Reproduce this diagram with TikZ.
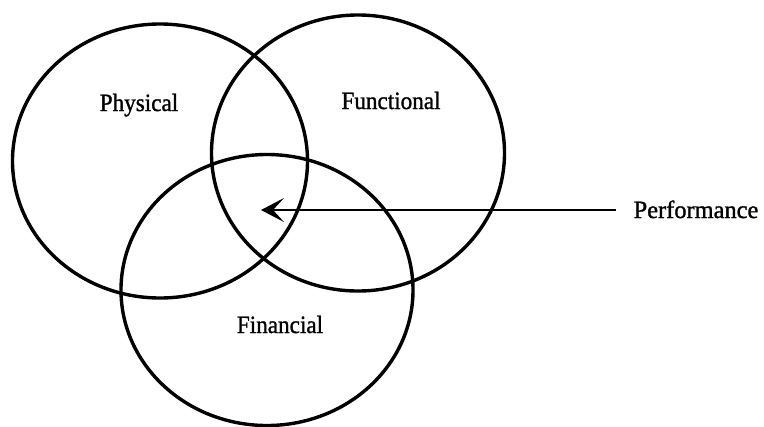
\documentclass[tikz,border=0pt]{standalone}
\usepackage{fontspec}
\setmainfont{Liberation Serif}
\newfontfamily\lblfont[FakeBold=1.2]{Liberation Serif}
\usetikzlibrary{shapes.geometric,arrows.meta}
\begin{document}
\begin{tikzpicture}[x=1bp,y=-1bp,
  venn/.style={draw=black, line width=3.4bp, ellipse, inner sep=0pt, outer sep=0pt},
  lbl/.style={font=\lblfont\fontsize{25}{28}\selectfont, inner sep=0pt, anchor=base},
  arr/.style={line width=1.8bp, -{Stealth[length=23bp,width=24bp,inset=11bp]}}]
\useasboundingbox (0,0) rectangle (764,426);
\node[venn, minimum width=295bp, minimum height=274bp] (phys) at (160,161) {};
\node[venn, minimum width=293bp, minimum height=276bp] (func) at (358,153) {};
\node[venn, minimum width=292bp, minimum height=271bp] (fin) at (267,290) {};
\node[lbl] (tphys) at (139,111) {\scalebox{0.93}[1]{Physical}};
\node[lbl] (tfunc) at (391,109) {\scalebox{0.93}[1]{Functional}};
\node[lbl] (tfin) at (280,333) {\scalebox{0.93}[1]{Financial}};
\node[lbl] (tperf) at (696,218) {\scalebox{0.98}[1]{Performance}};
\coordinate (astart) at (616,210);
\coordinate (atip) at (261,210);
\draw[arr] (astart) -- (atip);
\end{tikzpicture}
\end{document}
